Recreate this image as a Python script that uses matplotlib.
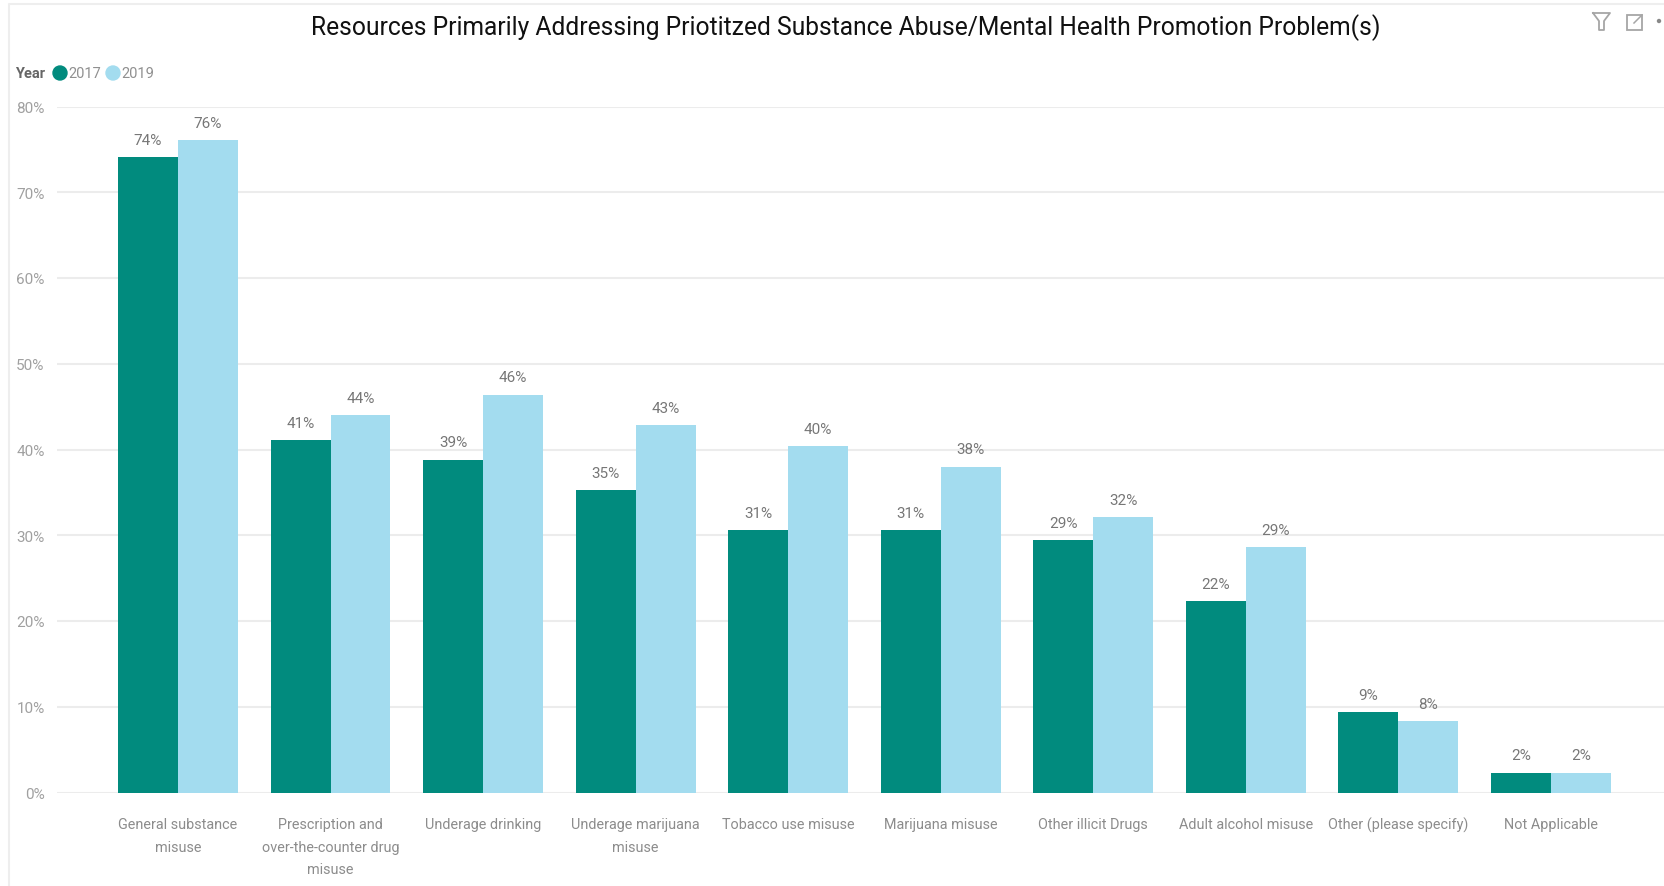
import matplotlib
matplotlib.use('Agg')
import matplotlib.pyplot as plt
import numpy as np
from matplotlib.lines import Line2D
from matplotlib.patches import Rectangle, Ellipse

categories = ['General substance\nmisuse', 'Prescription and\nover-the-counter drug\nmisuse',
              'Underage drinking', 'Underage marijuana\nmisuse', 'Tobacco use misuse',
              'Marijuana misuse', 'Other illicit Drugs', 'Adult alcohol misuse',
              'Other (please specify)', 'Not Applicable']
v2017 = [74.1, 41.1, 38.8, 35.3, 30.6, 30.6, 29.4, 22.3, 9.4, 2.3]
v2019 = [76.1, 44.0, 46.4, 42.8, 40.4, 38.0, 32.1, 28.6, 8.3, 2.3]
y_ticks = [0, 10, 20, 30, 40, 50, 60, 70, 80]

GREEN = '#018b7e'
BLUE = '#a3dcef'
W, H = 1664, 887

plt.rcParams['font.family'] = ['Roboto', 'DejaVu Sans']

fig = plt.figure(figsize=(W / 100, H / 100), dpi=100)
# axes placed in pixels, same as the reference
ax = fig.add_axes([57 / W, 1 - 793.5 / H, (W - 57) / W, (793.5 - 107.5) / H])
x = np.arange(len(categories))
w = 0.393
ax.bar(x - w / 2, v2017, w, color=GREEN, zorder=3)
ax.bar(x + w / 2, v2019, w, color=BLUE, zorder=3)

for i in x:
    ax.text(i - w / 2, v2017[i] + 1.2, f'{round(v2017[i])}%', ha='center', va='bottom',
            fontsize=11, color='#777777')
    ax.text(i + w / 2, v2019[i] + 1.2, f'{round(v2019[i])}%', ha='center', va='bottom',
            fontsize=11, color='#777777')

ax.set_xlim(-0.793, 9.741)
ax.set_ylim(0, 80)
ax.set_yticks(y_ticks)
ax.set_yticklabels([f'{t}%' for t in y_ticks], fontsize=11, color='#a0a0a0')
ax.set_xticks(x)
ax.set_xticklabels(categories, fontsize=10.4, color='#8c8c8c', linespacing=1.8)
ax.tick_params(axis='both', length=0)
ax.tick_params(axis='x', pad=17.5)
ax.tick_params(axis='y', pad=9)
ax.grid(axis='y', color='#ececec', linewidth=1.5, zorder=0)
ax.set_axisbelow(True)
for s in ax.spines.values():
    s.set_visible(False)

def px(xp, yp):
    return xp / W, 1 - yp / H

# outer frame of the visual
fig.add_artist(Line2D([9 / W, 9 / W, 1], [0, 1 - 5 / H, 1 - 5 / H], color='#eeeeee', lw=1.5))

tx, ty = px(846, 27.5)
fig.text(tx, ty, 'Resources Primarily Addressing Priotitzed Substance Abuse/Mental Health Promotion Problem(s)',
         ha='center', va='center', fontsize=17.7, color='#111111')

# legend
tx, ty = px(15, 74)
fig.text(tx, ty, 'Year', ha='left', va='center', fontsize=10.5, fontweight='bold', color='#666666')
for cx, col, lab, lx in [(60, GREEN, '2017', 68), (113, BLUE, '2019', 121)]:
    cxf, cyf = px(cx, 74)
    fig.add_artist(Ellipse((cxf, cyf), 14 / W, 14 / H, color=col))
    tx, ty = px(lx, 74)
    fig.text(tx, ty, lab, ha='left', va='center', fontsize=10.5, color='#909090')

# filter icon, focus icon and dot, top right
ICON = '#a6a6a6'
fx = [1593, 1610, 1604, 1604, 1599, 1599, 1593]
fy = [14, 14, 22, 31, 31, 22, 14]
fig.add_artist(Line2D([a / W for a in fx], [1 - b / H for b in fy], color=ICON, lw=1.3))
x0, y0 = px(1627, 31)
fig.add_artist(Rectangle((x0, y0), 15 / W, 15 / H, fill=False, ec=ICON, lw=1.3))
fig.add_artist(Line2D([1634 / W, 1642 / W], [1 - 24 / H, 1 - 16 / H], color=ICON, lw=1.1))
dx, dy = px(1659, 22)
fig.add_artist(Ellipse((dx, dy), 3 / W, 3 / H, color='#888888'))

fig.savefig('out.png', dpi=100)
